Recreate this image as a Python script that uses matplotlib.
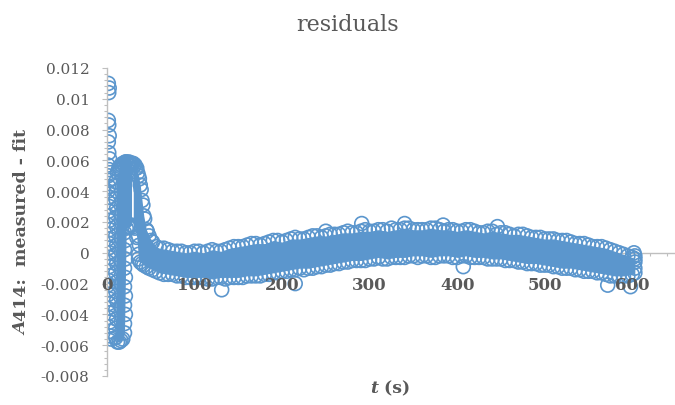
import matplotlib.pyplot as plt
from matplotlib.ticker import FixedLocator, MultipleLocator

# early scatter column (t close to 0)
early_t = [1.5, 2.5, 2.0, 1.5, 2.0, 2.5, 1.5, 2.0, 3.0, 1.0, 2.5, 1.5, 3.0, 2.0, 1.0,
           2.5, 1.5, 3.0, 2.0, 1.0, 2.5, 1.5, 3.0, 2.0, 1.0, 2.5, 1.5, 3.0, 2.0, 1.0,
           2.5, 1.5, 3.0, 2.0, 1.0, 2.5, 1.5, 3.0, 2.0, 1.0, 2.5, 1.5, 3.0, 2.0, 4.0,
           3.5, 4.5]
early_r = [0.0110, 0.0107, 0.0104, 0.0086, 0.0083, 0.0076, 0.0072, 0.0065, 0.0061,
           0.0057, 0.0054, 0.0050, 0.0047, 0.0043, 0.0040, 0.0036, 0.0033, 0.0030,
           0.0027, 0.0024, 0.0021, 0.0018, 0.0015, 0.0012, 0.0009, 0.0006, 0.0003,
           0.0000, -0.0003, -0.0006, -0.0009, -0.0012, -0.0015, -0.0018, -0.0021,
           -0.0024, -0.0027, -0.0030, -0.0033, -0.0036, -0.0039, -0.0042, -0.0045,
           -0.0048, -0.0051, -0.0054, -0.0056]

# second column + peak (envelope of marker centres)
col_t = [10, 12, 14, 16, 18, 20, 22, 24, 26, 28]
col_hi = [0.0046, 0.0052, 0.0055, 0.0057, 0.0058, 0.0058, 0.0059, 0.0058, 0.0058, 0.0058]
col_lo = [-0.0055, -0.0058, -0.0058, -0.0057, -0.0056, -0.0052, 0.0016, 0.0017, 0.0017, 0.0018]

col_edge_t = [10, 11, 10, 11, 10, 11, 10, 11, 10, 11, 10, 11, 10, 11, 10, 11, 10,
              20, 21, 20, 21, 20, 21, 20, 21, 20, 21, 20,
              13, 15, 17, 19, 21, 23, 25, 27, 29, 31, 33, 35,
              37, 39, 41, 43, 46, 50]
col_edge_r = [-0.0049, -0.0043, -0.0037, -0.0031, -0.0025, -0.0019, -0.0013, -0.0007,
              -0.0001, 0.0005, 0.0011, 0.0017, 0.0023, 0.0029, 0.0035, 0.0040, 0.0044,
              -0.0046, -0.0040, -0.0034, -0.0028, -0.0022, -0.0016, -0.0010, -0.0004,
              0.0002, 0.0008, 0.0013,
              0.0054, 0.0056, 0.0057, 0.0058, 0.0059, 0.0058, 0.0059, 0.0058, 0.0058,
              0.0057, 0.0055, 0.0052,
              0.0048, 0.0041, 0.0031, 0.0022, 0.0014, 0.0008]

# decay and main band (envelope of marker centres)
band_t = [30, 32, 34, 36, 38, 40, 42, 45, 48, 52, 56, 60, 70, 80, 90, 100, 110, 120,
          130, 140, 150, 160, 170, 180, 190, 200, 210, 220, 230, 240, 250, 260, 270,
          280, 290, 300, 310, 320, 330, 340, 350, 360, 370, 380, 390, 400, 410, 420,
          430, 440, 450, 460, 470, 480, 490, 500, 510, 520, 530, 540, 550, 560, 570,
          580, 590, 600, 603]
band_hi = [0.0058, 0.0057, 0.0055, 0.0050, 0.0044, 0.0034, 0.0024, 0.0015, 0.0011,
           0.0007, 0.0004, 0.0003, 0.0002, 0.0001, 0.0000, 0.0001, 0.0000, 0.0002,
           0.0001, 0.0003, 0.0004, 0.0005, 0.0006, 0.0006, 0.0008, 0.0007, 0.0009,
           0.0009, 0.0010, 0.0011, 0.0011, 0.0012, 0.0013, 0.0013, 0.0014, 0.0014,
           0.0015, 0.0014, 0.0015, 0.0016, 0.0015, 0.0015, 0.0016, 0.0015, 0.0015,
           0.0014, 0.0015, 0.0014, 0.0013, 0.0014, 0.0013, 0.0012, 0.0012, 0.0011,
           0.0010, 0.0009, 0.0009, 0.0008, 0.0007, 0.0006, 0.0005, 0.0004, 0.0003,
           0.0001, -0.0001, -0.0003, -0.0004]
band_lo = [0.0017, 0.0016, 0.0010, -0.0004, -0.0006, -0.0007, -0.0008, -0.0009,
           -0.0010, -0.0011, -0.0012, -0.0013, -0.0014, -0.0015, -0.0016, -0.0016,
           -0.0016, -0.0017, -0.0016, -0.0016, -0.0016, -0.0015, -0.0015, -0.0014,
           -0.0013, -0.0012, -0.0011, -0.0010, -0.0010, -0.0009, -0.0008, -0.0007,
           -0.0006, -0.0005, -0.0005, -0.0004, -0.0003, -0.0004, -0.0003, -0.0003,
           -0.0002, -0.0002, -0.0003, -0.0002, -0.0002, -0.0003, -0.0002, -0.0003,
           -0.0003, -0.0004, -0.0004, -0.0005, -0.0006, -0.0007, -0.0007, -0.0008,
           -0.0009, -0.0010, -0.0010, -0.0011, -0.0012, -0.0013, -0.0014, -0.0015,
           -0.0015, -0.0014, -0.0013]

# extra rings along the band edges
mid_t = [65, 75, 85, 95, 105, 115, 125, 135, 145, 155, 165, 175, 185, 195, 205, 215,
         225, 235, 245, 255, 265, 275, 285, 295, 305, 315, 325, 335, 345, 355, 365,
         375, 385, 395, 405, 415, 425, 435, 445, 455, 465, 475, 485, 495, 505, 515,
         525, 535, 545, 555, 565, 575, 585, 595]
mid_hi = [0.0003, 0.0001, 0.0001, 0.0000, 0.0001, 0.0001, 0.0001, 0.0002, 0.0004,
          0.0004, 0.0006, 0.0005, 0.0007, 0.0008, 0.0008, 0.0010, 0.0009, 0.0011,
          0.0010, 0.0012, 0.0012, 0.0014, 0.0013, 0.0015, 0.0014, 0.0015, 0.0016,
          0.0015, 0.0016, 0.0015, 0.0015, 0.0016, 0.0014, 0.0015, 0.0014, 0.0015,
          0.0013, 0.0014, 0.0012, 0.0013, 0.0011, 0.0012, 0.0010, 0.0010, 0.0009,
          0.0008, 0.0008, 0.0006, 0.0006, 0.0004, 0.0004, 0.0002, 0.0000, -0.0002]
mid_lo = [-0.0014, -0.0014, -0.0015, -0.0016, -0.0016, -0.0017, -0.0016, -0.0017,
          -0.0016, -0.0016, -0.0015, -0.0015, -0.0014, -0.0013, -0.0012, -0.0011,
          -0.0011, -0.0010, -0.0009, -0.0008, -0.0007, -0.0006, -0.0005, -0.0005,
          -0.0004, -0.0004, -0.0003, -0.0003, -0.0002, -0.0003, -0.0002, -0.0003,
          -0.0002, -0.0003, -0.0002, -0.0003, -0.0003, -0.0004, -0.0004, -0.0005,
          -0.0005, -0.0006, -0.0007, -0.0008, -0.0008, -0.0009, -0.0010, -0.0011,
          -0.0012, -0.0012, -0.0013, -0.0015, -0.0015, -0.0015]

band_edge_t = [36, 37, 36, 603, 603, 603, 602]
band_edge_r = [-0.0001, 0.0005, 0.0011, -0.0010, -0.0006, -0.0002, 0.0000]

# stray points outside the band
stray_t = [131, 291, 340, 384, 446, 407, 572, 598, 250, 215]
stray_r = [-0.0024, 0.0019, 0.0019, 0.0018, 0.0017, -0.0009, -0.0021, -0.0022, 0.0014, -0.0020]

y_ticks = [-0.008, -0.006, -0.004, -0.002, 0, 0.002, 0.004, 0.006, 0.008, 0.01, 0.012]
y_labels = ["-0.008", "-0.006", "-0.004", "-0.002", "0", "0.002", "0.004", "0.006",
            "0.008", "0.01", "0.012"]
x_ticks = [0, 100, 200, 300, 400, 500, 600]

blue = "#5B96CD"
grey = "#595959"
axis_grey = "#BFBFBF"
plt.rcParams["font.family"] = ["DejaVu Serif"]

fig = plt.figure(figsize=(6.75, 4.06), dpi=100)
ax = fig.add_axes([107 / 675, 29 / 406, 569 / 675, 308 / 406])
ax.set_xlim(0, 650)
ax.set_ylim(-0.008, 0.012)

ax.axhline(0, color=axis_grey, lw=1.0, zorder=1)

ring = dict(s=100, facecolors="none", edgecolors=blue, linewidths=1.2, zorder=2)
ax.fill_between(col_t, col_lo, col_hi, color=blue, lw=0, zorder=2)
ax.fill_between(band_t, band_lo, band_hi, color=blue, lw=0, zorder=2)
ax.scatter(col_t, col_hi, **ring)
ax.scatter(col_t, col_lo, **ring)
ax.scatter(col_edge_t, col_edge_r, **ring)
ax.scatter(band_t, band_hi, **ring)
ax.scatter(band_t, band_lo, **ring)
ax.scatter(mid_t, mid_hi, **ring)
ax.scatter(mid_t, mid_lo, **ring)
ax.scatter(band_edge_t, band_edge_r, **ring)
ax.scatter(stray_t, stray_r, **ring)
ax.scatter(early_t, early_r, **ring)

for side in ["top", "right", "bottom"]:
    ax.spines[side].set_visible(False)
ax.spines["bottom"].set_position(("data", 0))
ax.spines["left"].set_color(axis_grey)
ax.spines["left"].set_linewidth(1.0)
ax.xaxis.set_zorder(3)

ax.set_yticks(y_ticks)
ax.set_yticklabels(y_labels)
ax.yaxis.set_minor_locator(MultipleLocator(0.0004))
ax.tick_params(axis="y", which="major", direction="out", length=3.6, width=0.8,
               color=axis_grey, labelsize=11, labelcolor=grey, pad=9)
ax.tick_params(axis="y", which="minor", direction="out", length=2.4, width=0.8,
               color=axis_grey)

ax.set_xticks(x_ticks)
ax.set_xticklabels([str(v) for v in x_ticks], fontweight="bold")
ax.xaxis.set_minor_locator(FixedLocator([620, 640]))
ax.tick_params(axis="x", which="major", length=0, labelsize=12, labelcolor=grey, pad=17)
ax.tick_params(axis="x", which="minor", direction="out", length=2.4, width=0.8,
               color=axis_grey)

fig.text(348 / 675, 1 - 25 / 406, "residuals", ha="center", va="center",
         size=16, color=grey)

# axis titles with an italic symbol in front
renderer = fig.canvas.get_renderer()


def mixed_text(pieces, cx, cy, size, rotation=0):
    items = []
    for s, style in pieces:
        t = fig.text(0, 0, s, fontstyle=style, fontweight="bold", size=size,
                     color=grey, rotation=rotation, ha="center", va="center")
        bb = t.get_window_extent(renderer)
        items.append((t, bb.height if rotation else bb.width))
    total = sum(w for _, w in items)
    W, H = fig.bbox.width, fig.bbox.height
    pos = -total / 2
    for t, w in items:
        if rotation:
            t.set_position((cx, cy + (pos + w / 2) / H))
        else:
            t.set_position((cx + (pos + w / 2) / W, cy))
        pos += w


mixed_text([("A", "italic"), ("414:  measured - fit", "normal")],
           22 / 675, 1 - 232 / 406, 12.5, rotation=90)
mixed_text([("t", "italic"), (" (s)", "normal")], 390 / 675, 1 - 389 / 406, 12.5)

fig.savefig("out.png", dpi=100)
